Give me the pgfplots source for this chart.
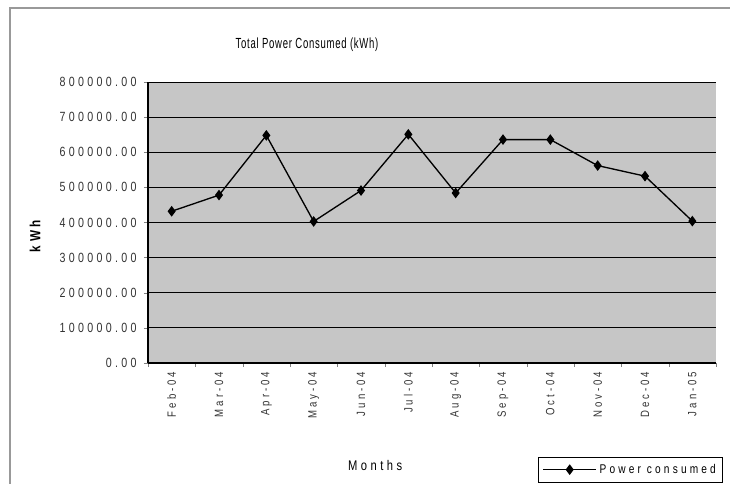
\documentclass[border=0pt]{standalone}
\usepackage{fontspec}
\setmainfont{Liberation Sans}
\newfontfamily\tickfont{Liberation Sans}[FakeStretch=0.8,LetterSpace=25]
\newfontfamily\titlefont{Liberation Sans}[FakeStretch=0.65,LetterSpace=5]
\usepackage{pgfplots}
\pgfplotsset{compat=1.18}
\definecolor{plotbg}{RGB}{198,198,198}
\begin{document}
\begin{tikzpicture}
\path[use as bounding box] (-111pt,-90.75pt) rectangle (436.5pt,272.25pt);
\draw[gray!80, line width=0.8pt] (-103.5pt,-95pt) -- (-103.5pt,266.25pt) -- (440pt,266.25pt);
\begin{axis}[
  at={(0,0)}, anchor=south west, scale only axis,
  width=426pt, height=210.75pt,
  xmin=-0.5, xmax=11.5, ymin=0, ymax=800000,
  ytick={0,100000,200000,300000,400000,500000,600000,700000,800000},
  scaled y ticks=false,
  xtick={0,1,2,3,4,5,6,7,8,9,10,11},
  xticklabels={Feb-04,Mar-04,Apr-04,May-04,Jun-04,Jul-04,Aug-04,Sep-04,Oct-04,Nov-04,Dec-04,Jan-05},
  minor xtick={-0.5,0.5,1.5,2.5,3.5,4.5,5.5,6.5,7.5,8.5,9.5,10.5,11.5},
  major x tick style={draw=none},
  tick align=outside,
  major tick length=3pt, minor tick length=3pt,
  axis x line*=bottom, axis y line*=left,
  axis line style={black, line width=0.8pt},
  axis background/.style={fill=plotbg},
  ymajorgrids,
  major grid style={black, line width=0.6pt},
  /pgf/number format/assume math mode=true,
  yticklabel style={font=\tickfont\fontsize{10}{12}\selectfont, text=black!80, /pgf/number format/fixed, /pgf/number format/fixed zerofill, /pgf/number format/precision=2, /pgf/number format/1000 sep={}, xshift=-2pt},
  xticklabel style={font=\tickfont\fontsize{9}{10}\selectfont, text=black!80, rotate=90, anchor=east},
  title={Total Power Consumed (kWh)},
  title style={font=\titlefont\fontsize{11}{13}\selectfont, at={(0.28,1.106)}, anchor=center},
  ylabel={kWh},
  ylabel style={font=\tickfont\fontsize{11}{13}\selectfont\bfseries, at={(rel axis cs:-0.199,0.452)}, anchor=center},
  xlabel={Months},
  xlabel style={font=\tickfont\fontsize{10.5}{12}\selectfont, at={(rel axis cs:0.40,-0.363)}, anchor=center},
  legend style={at={(0.687,-0.335)}, anchor=north west, draw=black, fill=white, font=\tickfont\fontsize{9.5}{11}\selectfont, inner sep=3pt},
  legend image code/.code={\draw[mark repeat=2,mark phase=2,#1] plot coordinates {(0cm,0cm) (0.7cm,0cm) (1.4cm,0cm)};},
]
\addplot[black, line width=1pt, mark=diamond*, mark size=3.2pt, mark options={solid, fill=black}] coordinates {
  (0,432000) (1,478000) (2,648000) (3,403000) (4,491000) (5,651000)
  (6,484000) (7,636000) (8,636000) (9,562000) (10,532000) (11,404000)
};
\addlegendentry{Power consumed}
\end{axis}
\end{tikzpicture}
\end{document}
